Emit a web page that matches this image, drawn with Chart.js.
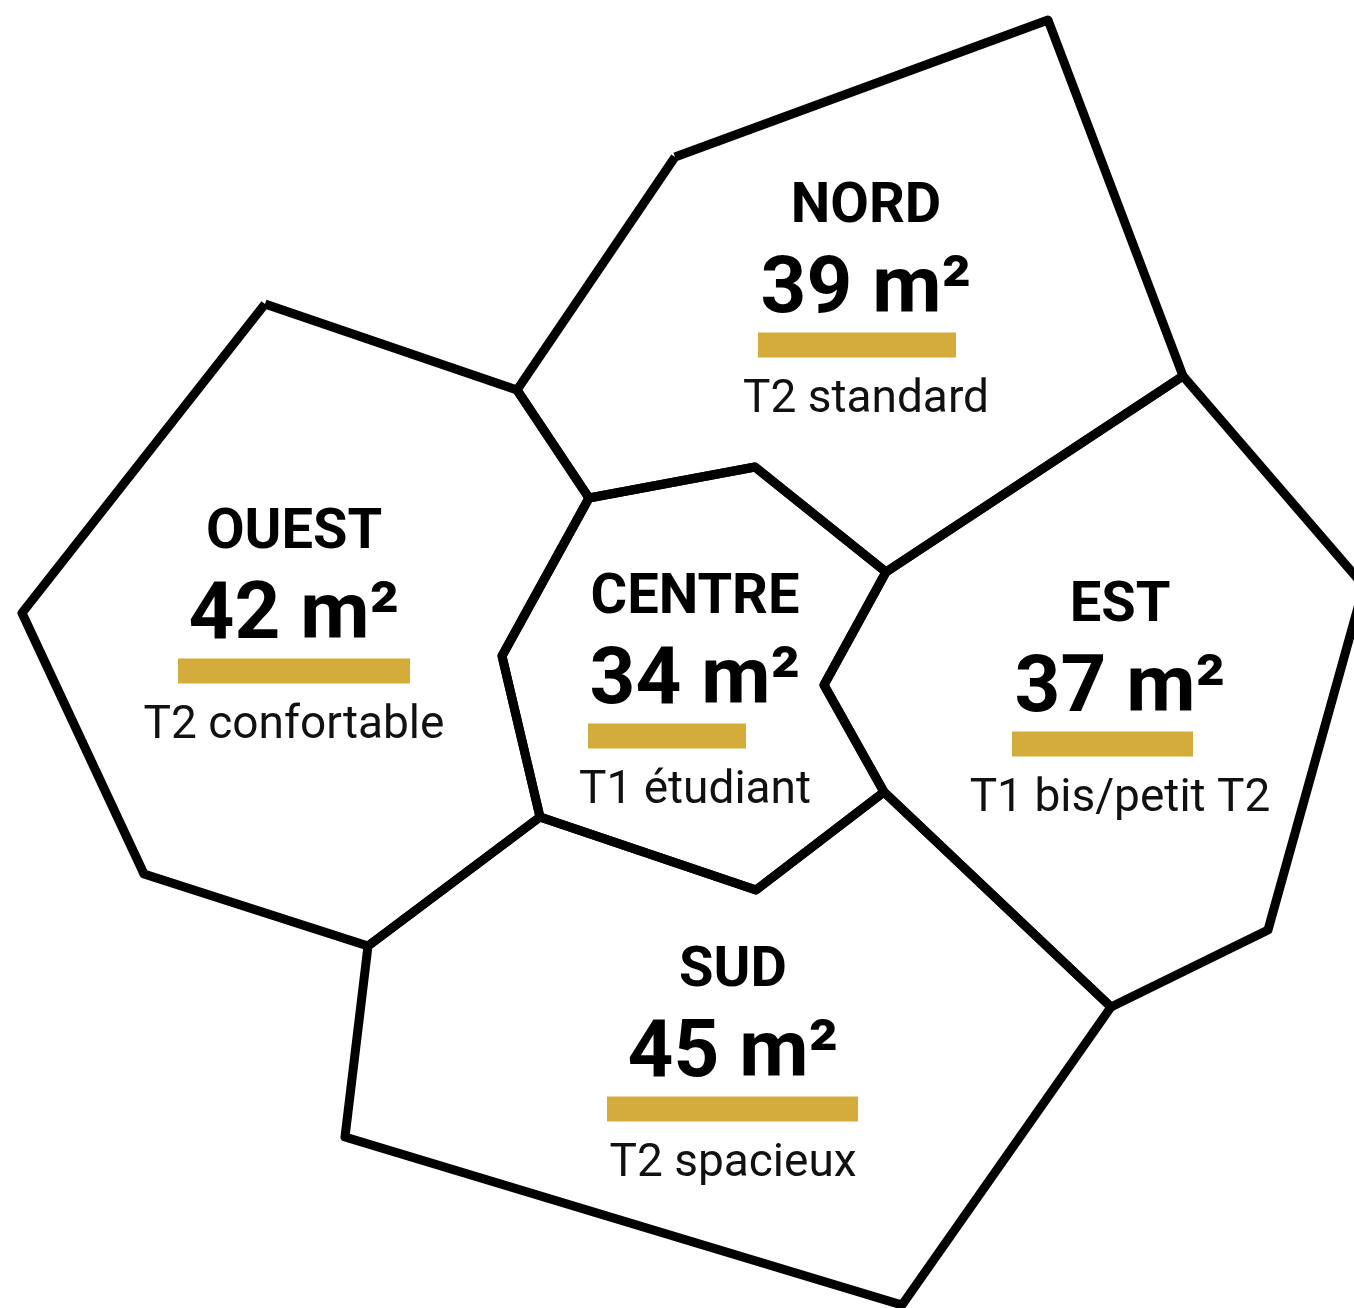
<!DOCTYPE html>
<html lang="fr">
<head>
<meta charset="UTF-8">
<title>Surfaces moyennes par quartier</title>
<script src="https://cdn.jsdelivr.net/npm/chart.js"></script>
<style>
  html, body { margin: 0; padding: 0; background: #fff; }
  #map { display: block; }
</style>
</head>
<body>
<canvas id="map" width="1354" height="1308"></canvas>

<script>
// Quartiers et surfaces moyennes
const regions   = ['NORD', 'OUEST', 'CENTRE', 'EST', 'SUD'];
const surfaces  = [39, 42, 34, 37, 45];
const typology  = ['T2 standard', 'T2 confortable', 'T1 étudiant', 'T1 bis/petit T2', 'T2 spacieux'];

// Contours des cellules (repère de la carte, y vers le bas)
const nordCell   = [[675,157],[1048,20],[1183,376],[886,572],[755,467],[589,498],[517,390]];
const ouestCell  = [[265,304],[517,390],[589,498],[502,656],[540,817],[368,946],[144,874],[22,613]];
const centreCell = [[589,498],[755,467],[886,572],[824,685],[884,792],[756,890],[540,817],[502,656]];
const estCell    = [[886,572],[1183,376],[1364,586],[1268,930],[1111,1007],[884,792],[824,685]];
const sudCell    = [[540,817],[756,890],[884,792],[1111,1007],[902,1305],[345,1137],[368,946]];
const cells = [nordCell, ouestCell, centreCell, estCell, sudCell];

// Emplacement des étiquettes et barres dorées
const labelX  = [866, 294, 695, 1120, 733];
const barY    = [345, 671, 736, 744, 1109];
const barFrom = [758, 178, 588, 1012, 607];
const barTo   = [956, 410, 746, 1193, 858];

const toPts = arr => arr.map(p => ({ x: p[0], y: p[1] }));

const datasets = [];
cells.forEach((c, i) => {
  datasets.push({
    label: regions[i],
    data: toPts(c.concat([c[0]])),
    showLine: true,
    borderColor: '#000',
    borderWidth: 9,
    borderJoinStyle: 'round',
    pointRadius: 0,
    fill: false,
    tension: 0
  });
});
regions.forEach((r, i) => {
  datasets.push({
    label: r + ' barre',
    data: [{ x: barFrom[i], y: barY[i] }, { x: barTo[i], y: barY[i] }],
    showLine: true,
    borderColor: '#d3ac3b',
    borderWidth: 25,
    borderCapStyle: 'butt',
    pointRadius: 0
  });
});

const labelPlugin = {
  id: 'regionLabels',
  afterDatasetsDraw(chart) {
    const { ctx, scales } = chart;
    ctx.save();
    ctx.textAlign = 'center';
    ctx.textBaseline = 'alphabetic';
    regions.forEach((r, i) => {
      const x = scales.x.getPixelForValue(labelX[i]);
      const yb = scales.y.getPixelForValue(barY[i]);
      ctx.fillStyle = '#000';
      ctx.font = 'bold 56px Roboto';
      ctx.fillText(r, x, yb - 123);
      ctx.font = 'bold 80px Roboto';
      ctx.fillText(surfaces[i] + ' m²', x, yb - 33);
      ctx.fillStyle = '#111';
      ctx.font = '46px Roboto';
      ctx.fillText(typology[i], x, yb + 67);
    });
    ctx.restore();
  }
};

new Chart(document.getElementById('map'), {
  type: 'scatter',
  data: { datasets },
  options: {
    responsive: false,
    animation: false,
    devicePixelRatio: 1,
    layout: { padding: 0 },
    scales: {
      x: { type: 'linear', min: 0, max: 1354, display: false },
      y: { type: 'linear', min: 0, max: 1308, reverse: true, display: false }
    },
    plugins: { legend: { display: false }, tooltip: { enabled: false } }
  },
  plugins: [labelPlugin]
});
</script>
</body>
</html>
